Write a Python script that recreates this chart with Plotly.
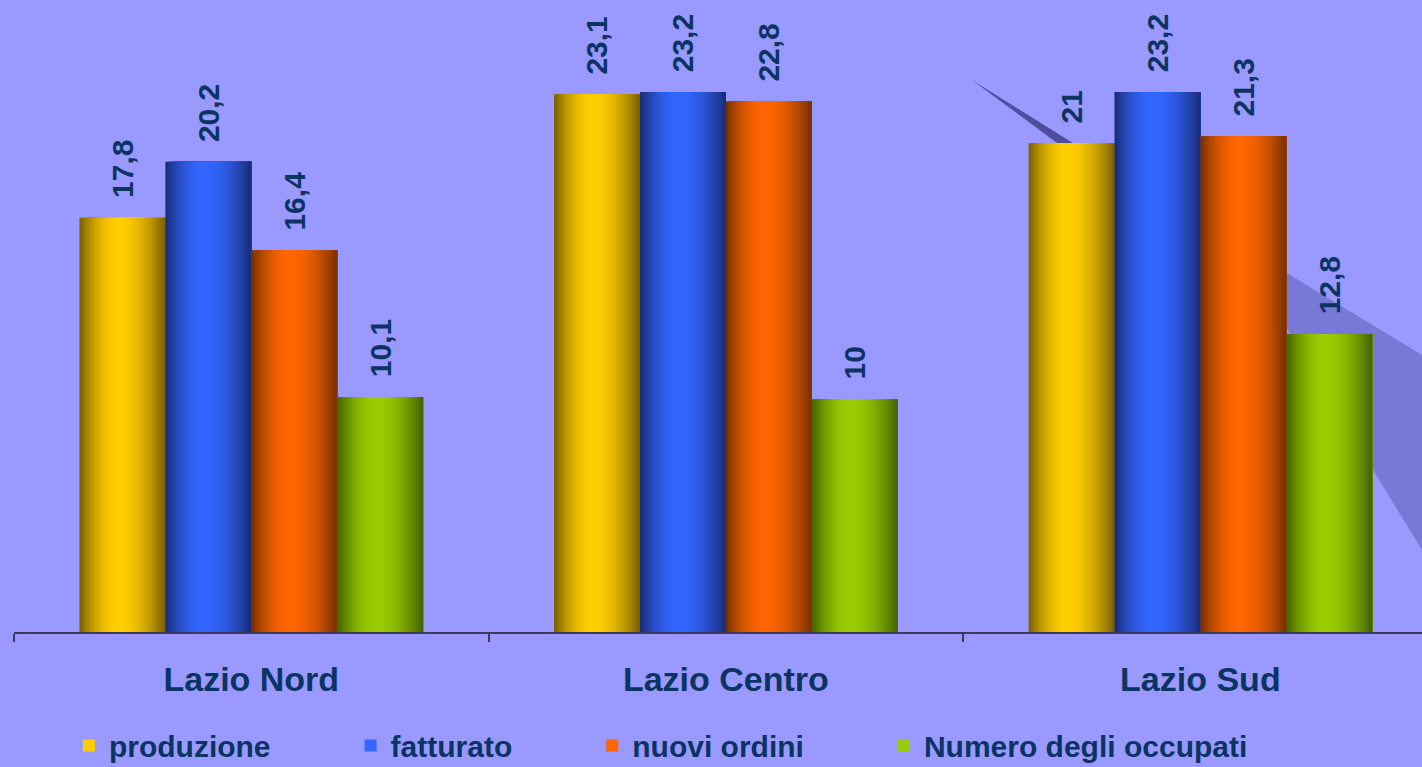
import plotly.graph_objects as go
import math

categories = ["Lazio Nord", "Lazio Centro", "Lazio Sud"]
series_names = ["produzione", "fatturato", "nuovi ordini", "Numero degli occupati"]
produzione = [17.8, 23.1, 21.0]
fatturato = [20.2, 23.2, 23.2]
nuovi_ordini = [16.4, 22.8, 21.3]
occupati = [10.1, 10.0, 12.8]
series_values = [produzione, fatturato, nuovi_ordini, occupati]

edge_colors = [(118, 92, 0), (24, 42, 115), (115, 46, 0), (66, 94, 0)]
center_colors = [(255, 206, 0), (51, 102, 255), (255, 102, 0), (153, 204, 0)]
legend_pad = [9, 9, 9, 0]

BG = "#9999FF"
TEXT = "#0B3462"
FONT = "Liberation Sans, Arial, sans-serif"

def fmt(v):
    s = ("%.1f" % v).rstrip("0").rstrip(".")
    return s.replace(".", ",")

def shade(edge, center, t, peak=0.45):
    u = t / peak if t < peak else (1 - t) / (1 - peak)
    w = math.sin(max(0.0, min(1.0, u)) * math.pi / 2) ** 0.9
    c = [int(round(e + (cc - e) * w)) for e, cc in zip(edge, center)]
    return "rgb(%d,%d,%d)" % tuple(c)

bar_w = 0.181
group_start = -2 * bar_w
N = 36
fig = go.Figure()
for i, (name, vals) in enumerate(zip(series_names, series_values)):
    strip_w = bar_w / N
    left = group_start + i * bar_w
    for k in range(N):
        t = (k + 0.5) / N
        fig.add_trace(go.Bar(
            x=categories, y=vals, name=name,
            width=bar_w - k * strip_w, offset=left + k * strip_w,
            marker=dict(color=shade(edge_colors[i], center_colors[i], t), line=dict(width=0)),
            legendgroup=name, showlegend=False, hoverinfo="skip",
        ))
    fig.add_trace(go.Bar(
        x=categories, y=vals, name=name,
        width=bar_w, offset=left,
        marker=dict(color="rgba(0,0,0,0)", line=dict(width=0)),
        text=["\u00a0\u00a0" + fmt(v) for v in vals],
        textposition="outside", textangle=-90, constraintext="none",
        cliponaxis=False,
        textfont=dict(family=FONT, size=30, color=TEXT, weight="bold"),
        legendgroup=name, showlegend=False, hoverinfo="skip",
    ))
    fig.add_trace(go.Bar(
        x=[None], y=[None], name=name + "\u00a0" * legend_pad[i],
        marker=dict(color=shade(edge_colors[i], center_colors[i], 0.45), line=dict(width=0)),
        legendgroup=name, showlegend=True,
    ))

# decorative background shards seen in the original slide
fig.add_shape(type="path", xref="paper", yref="paper", layer="below",
              path="M 0.8991 0.5744 L 1.0 0.4383 L 1.0 0.1297 L 0.8991 0.4984 Z",
              fillcolor="rgba(110,110,200,0.75)", line=dict(width=0))
fig.add_shape(type="path", xref="paper", yref="paper", layer="below",
              path="M 0.6804 0.8734 L 0.7521 0.7737 L 0.7408 0.7737 Z",
              fillcolor="rgba(70,70,150,0.9)", line=dict(width=0))

fig.update_layout(
    width=1422, height=767,
    margin=dict(l=14, r=0, t=0, b=135),
    paper_bgcolor=BG, plot_bgcolor=BG,
    barmode="overlay",
    showlegend=True,
    legend=dict(
        orientation="h", x=0.039, xanchor="left",
        yref="container", y=0.028, yanchor="middle",
        font=dict(family=FONT, size=30, color=TEXT, weight="bold"),
        itemsizing="constant", bgcolor="rgba(0,0,0,0)", traceorder="normal",
        itemwidth=30,
    ),
    xaxis=dict(
        type="category", categoryorder="array", categoryarray=categories,
        range=[-0.5, 2.467], showgrid=False, zeroline=False,
        showline=True, linecolor="#3A3A5A", linewidth=1.5,
        ticks="outside", tickson="boundaries", ticklen=8, tickcolor="#3A3A5A", tickwidth=1.5,
        ticklabelstandoff=16,
        tickfont=dict(family=FONT, size=34, color=TEXT, weight="bold"),
    ),
    yaxis=dict(visible=False, range=[0, 27.15], showgrid=False, zeroline=False),
)

fig.write_html(
    "out.html",
    config={"displayModeBar": False},
    post_script="document.body.style.margin='0px';document.body.style.background='%s';" % BG,
)
